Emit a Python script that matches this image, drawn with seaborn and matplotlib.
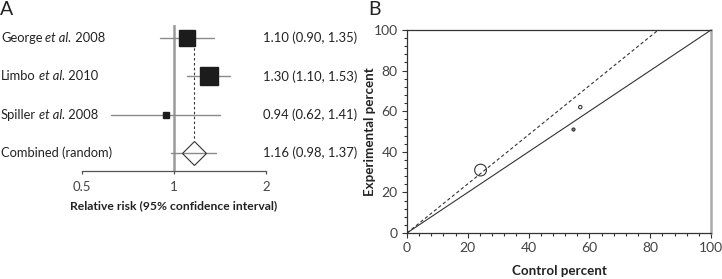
import numpy as np
import pandas as pd
import matplotlib
matplotlib.use("Agg")
import matplotlib.pyplot as plt
import matplotlib.transforms as mtransforms
from matplotlib.ticker import MultipleLocator, FixedLocator, NullLocator
import seaborn as sns

# ---------------- data ----------------
authors = ["George", "Limbo", "Spiller"]
years = ["2008", "2010", "2008"]
rr = [1.10, 1.30, 0.94]
ci_low = [0.90, 1.10, 0.62]
ci_high = [1.35, 1.53, 1.41]
weights = [36.6, 56.9, 6.5]          # % weight (square area)
pooled_label = "Combined (random)"
pooled_rr = 1.16
pooled_low = 0.98
pooled_high = 1.37
rr_ticks = [0.5, 1, 2]
rr_tick_labels = ["0.5", "1", "2"]

# L'Abbe plot
control_pct = [57.0, 24.2, 54.6]      # George, Limbo, Spiller
experimental_pct = [62.0, 31.0, 51.2]
labbe_weight = [1.0, 12.0, 0.8]
labbe_filled = [False, False, True]
pooled_slope = 1.21
pct_ticks = [0, 20, 40, 60, 80, 100]

# ---------------- style ----------------
sns.set_theme(style="white")
plt.rcParams["font.family"] = ["Lato", "DejaVu Sans"]
FS = 9
TXT = "#222222"
GRAY = "#444444"

fig = plt.figure(figsize=(7.22, 2.79), dpi=100)
W, H = 722, 279

def axrect(x0, y0, x1, y1):
    return [x0 / W, 1 - y1 / H, (x1 - x0) / W, (y1 - y0) / H]

# ---------------- Panel A ----------------
axA = fig.add_axes(axrect(82, 25, 266, 171))
axA.set_xscale("log")
axA.set_xlim(0.5, 2)
axA.set_ylim(3.47, -0.34)
rows = np.arange(len(authors))

axA.axvline(1, color="#9a9a9a", lw=1.8, zorder=1)
axA.plot([pooled_rr, pooled_rr], [rows[0], len(authors) - 0.33],
         color="#333333", lw=0.8, ls=(0, (2.2, 2.2)), zorder=2)

for r, lo, hi in zip(rows, ci_low, ci_high):
    axA.plot([lo, hi], [r, r], color="#8a8a8a", lw=1.0, zorder=2)
axA.plot([pooled_low, pooled_high], [len(authors)] * 2, color="#8a8a8a", lw=1.0, zorder=2)

for r, v, w in zip(rows, rr, weights):
    axA.plot([v], [r], marker="s", ms=1.79 * np.sqrt(w), color="#1c1c1c",
             mec="#1c1c1c", ls="none", zorder=3)
axA.plot([pooled_rr], [len(authors)], marker="D", ms=12.5, mfc="none",
         mec="#333333", mew=0.8, ls="none", zorder=4)

axA.xaxis.set_major_locator(FixedLocator(rr_ticks))
axA.xaxis.set_minor_locator(NullLocator())
axA.set_xticklabels(rr_tick_labels)
axA.set_yticks([])
for s in ["left", "right", "top"]:
    axA.spines[s].set_visible(False)
axA.spines["bottom"].set_color("#555555")
axA.spines["bottom"].set_linewidth(0.9)
axA.tick_params(axis="x", which="major", direction="out", length=2.5, width=0.9,
                color="#555555", labelsize=FS + 0.5, labelcolor=GRAY, pad=5, bottom=True)
axA.set_xlabel("Relative risk (95% confidence interval)", fontsize=8.7,
               fontweight="bold", color=TXT, labelpad=5)

trans_left = mtransforms.blended_transform_factory(fig.transFigure, axA.transData)
fig.canvas.draw()
for r, a, y in zip(rows, authors, years):
    t1 = axA.text(1 / W, r, a, transform=trans_left, fontsize=FS + 0.3, color=TXT,
                  va="center", ha="left")
    t2 = axA.annotate(" et al.", xy=(1, 0), xycoords=t1, fontsize=FS + 0.3,
                      color=TXT, style="italic", va="bottom", ha="left")
    axA.annotate(" " + y, xy=(1, 0), xycoords=t2, fontsize=FS + 0.3, color=TXT,
                 va="bottom", ha="left")
axA.text(1 / W, len(authors), pooled_label, transform=trans_left, fontsize=FS + 0.3,
         color=TXT, va="center", ha="left")

trans_right = mtransforms.blended_transform_factory(axA.transAxes, axA.transData)
for r, v, lo, hi in zip(rows, rr, ci_low, ci_high):
    axA.text(0.984, r, f"{v:.2f} ({lo:.2f}, {hi:.2f})", transform=trans_right,
             fontsize=9.4, color=TXT, va="center", ha="left", clip_on=False)
axA.text(0.984, len(authors), f"{pooled_rr:.2f} ({pooled_low:.2f}, {pooled_high:.2f})",
         transform=trans_right, fontsize=9.4, color=TXT, va="center", ha="left",
         clip_on=False)

fig.text(0 / W, 1 - 1 / H, "A", fontsize=14, color=TXT, va="top", ha="left")

# ---------------- Panel B ----------------
axB = fig.add_axes(axrect(407, 30, 711, 233))
axB.set_xlim(0, 100)
axB.set_ylim(0, 100)
xx = np.array([0, 100])
axB.plot(xx, xx, color="#333333", lw=0.8, zorder=2)
axB.plot(xx, pooled_slope * xx, color="#333333", lw=0.8, ls=(0, (3, 2.2)), zorder=2)

df = pd.DataFrame({"control": control_pct, "experimental": experimental_pct,
                   "w": labbe_weight, "filled": labbe_filled})
for filled, sub in df.groupby("filled"):
    sns.scatterplot(data=sub, x="control", y="experimental", ax=axB,
                    s=sub["w"] * 6.0, marker="o",
                    facecolor="#888888" if filled else "none",
                    edgecolor="#333333", linewidth=0.8, zorder=3, legend=False)

axB.xaxis.set_major_locator(FixedLocator(pct_ticks))
axB.yaxis.set_major_locator(FixedLocator(pct_ticks))
axB.xaxis.set_minor_locator(MultipleLocator(4))
axB.yaxis.set_minor_locator(MultipleLocator(4))
axB.tick_params(which="both", direction="out", color="#333333", width=0.8,
                labelsize=10, labelcolor=GRAY, bottom=True, left=True)
axB.tick_params(which="major", length=3.6, pad=3)
axB.tick_params(which="minor", length=2.2)
for s in ["left", "bottom", "top"]:
    axB.spines[s].set_color("#333333")
    axB.spines[s].set_linewidth(0.9)
axB.spines["right"].set_color("#aaaaaa")
axB.spines["right"].set_linewidth(1.8)
axB.set_xlabel("Control percent", fontsize=9.6, fontweight="bold", color=TXT)
axB.set_ylabel("Experimental percent", fontsize=9.6, fontweight="bold", color=TXT)
axB.xaxis.set_label_coords(0.5, -0.16)
axB.yaxis.set_label_coords(-0.102, 0.5)

fig.text(368 / W, 1 - 1 / H, "B", fontsize=14, color=TXT, va="top", ha="left")

fig.savefig("out.png", dpi=100)
